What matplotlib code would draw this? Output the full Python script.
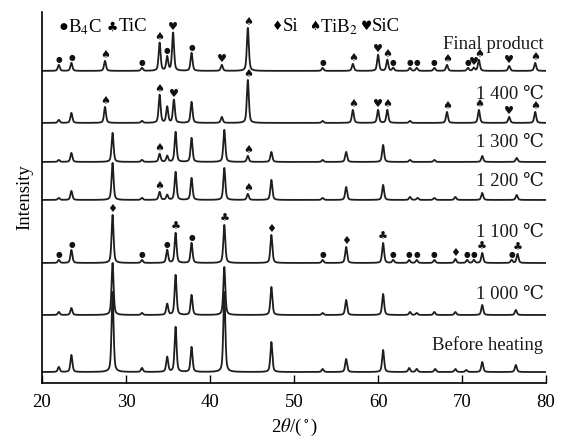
import numpy as np
import matplotlib.pyplot as plt

plt.rcParams['font.family'] = ['Liberation Serif', 'DejaVu Serif']
plt.rcParams['mathtext.fontset'] = 'stix'

# trace labels and vertical offsets (bottom to top)
labels = ['Before heating', '1 000 \u2103', '1 100 \u2103', '1 200 \u2103',
          '1 300 \u2103', '1 400 \u2103', 'Final product']
offsets = [11, 68, 120, 183, 221, 260, 312]
label_y = [38, 88, 150, 201, 240, 288, 338]

# peak lists: (2theta, height)
before_peaks = [(22.0, 5), (23.5, 17), (28.4, 80), (31.9, 4), (34.9, 15), (35.9, 45),
                (37.8, 25), (41.7, 80), (47.3, 30), (53.4, 3), (56.2, 13), (60.6, 22),
                (63.7, 4), (64.6, 3), (66.8, 3), (69.2, 3), (70.5, 2), (72.4, 10), (76.4, 7)]
p1000_peaks = [(22.0, 3), (23.5, 7), (28.4, 52), (31.9, 2), (34.9, 11), (35.9, 40),
               (37.8, 20), (41.7, 48), (47.3, 28), (53.4, 2), (56.2, 15), (60.6, 21),
               (63.8, 3), (64.6, 2), (66.7, 3), (69.2, 3), (72.4, 10), (76.4, 5)]
p1100_peaks = [(22.0, 3), (23.5, 13), (28.4, 48), (31.9, 3), (34.9, 13), (35.9, 30),
               (37.8, 20), (41.7, 38), (47.3, 28), (53.4, 3), (56.2, 16), (60.6, 20),
               (61.8, 3), (63.7, 3), (64.6, 3), (66.7, 3), (69.2, 4), (70.6, 3),
               (71.4, 3), (72.4, 10), (75.9, 3), (76.6, 9)]
p1200_peaks = [(22.0, 2), (23.5, 9), (28.4, 37), (31.9, 2), (34.0, 8), (34.9, 5),
               (35.9, 28), (37.8, 22), (41.7, 32), (44.5, 6), (47.3, 20), (53.4, 2),
               (56.2, 13), (60.6, 15), (63.8, 3), (64.7, 2), (66.7, 2), (69.2, 3),
               (72.4, 7), (76.5, 5)]
p1300_peaks = [(22.0, 2), (23.5, 9), (28.4, 29), (31.9, 2), (34.0, 8), (34.9, 6),
               (35.9, 30), (37.8, 24), (41.7, 32), (44.5, 6), (47.3, 10), (53.4, 2),
               (56.2, 10), (60.6, 17), (63.8, 2), (66.7, 2), (72.4, 6), (76.5, 4)]
p1400_peaks = [(22.0, 3), (23.5, 10), (27.5, 16), (31.9, 2), (34.0, 28), (34.9, 16),
               (35.7, 23), (37.8, 21), (41.4, 6), (44.5, 43), (53.4, 2), (57.0, 13),
               (60.0, 13), (61.1, 13), (63.8, 2), (68.2, 11), (72.0, 13), (75.6, 6),
               (78.7, 11)]
final_peaks = [(22.0, 6), (23.5, 8), (27.5, 10), (31.9, 3), (34.0, 28), (34.9, 14),
               (35.6, 38), (37.8, 18), (41.4, 6), (44.5, 43), (53.4, 3), (57.0, 7),
               (60.0, 16), (61.1, 11), (61.8, 3), (63.8, 3), (64.6, 3), (66.7, 3),
               (68.2, 6), (70.7, 3), (71.4, 3), (72.0, 11), (75.6, 5), (78.7, 8)]
all_peaks = [before_peaks, p1000_peaks, p1100_peaks, p1200_peaks,
             p1300_peaks, p1400_peaks, final_peaks]

# phase markers per trace index: (2theta, phase)
phase_marks = {
    2: [(22.0, 'B4C'), (23.5, 'B4C'), (28.4, 'Si'), (31.9, 'B4C'), (34.9, 'B4C'),
        (35.9, 'TiC'), (37.8, 'B4C'), (41.7, 'TiC'), (47.3, 'Si'), (53.4, 'B4C'),
        (56.2, 'Si'), (60.6, 'TiC'), (61.8, 'B4C'), (63.7, 'B4C'), (64.6, 'B4C'),
        (66.7, 'B4C'), (69.2, 'Si'), (70.6, 'B4C'), (71.4, 'B4C'), (72.4, 'TiC'),
        (75.9, 'B4C'), (76.6, 'TiC')],
    3: [(34.0, 'TiB2'), (44.5, 'TiB2')],
    4: [(34.0, 'TiB2'), (44.5, 'TiB2')],
    5: [(27.5, 'TiB2'), (34.0, 'TiB2'), (35.7, 'SiC'), (44.5, 'TiB2'), (57.0, 'TiB2'),
        (60.0, 'SiC'), (61.1, 'TiB2'), (68.2, 'TiB2'), (72.0, 'TiB2'), (75.6, 'SiC'),
        (78.7, 'TiB2')],
    6: [(22.0, 'B4C'), (23.5, 'B4C'), (27.5, 'TiB2'), (31.9, 'B4C'), (34.0, 'TiB2'),
        (34.9, 'B4C'), (35.6, 'SiC'), (37.8, 'B4C'), (41.4, 'SiC'), (44.5, 'TiB2'),
        (53.4, 'B4C'), (57.0, 'TiB2'), (60.0, 'SiC'), (61.1, 'TiB2'), (61.8, 'B4C'),
        (63.8, 'B4C'), (64.6, 'B4C'), (66.7, 'B4C'), (68.2, 'TiB2'), (70.7, 'B4C'),
        (71.4, 'SiC'), (72.0, 'TiB2'), (75.6, 'SiC'), (78.7, 'TiB2')],
}
symbols = {'B4C': '\u25cf', 'TiC': '\u2663', 'Si': '\u2666', 'TiB2': '\u2660', 'SiC': '\u2665'}

fig = plt.figure(figsize=(5.63, 4.40), dpi=100)
ax = fig.add_axes([0.0746, 0.1295, 0.8954, 0.8435])

x = np.linspace(20, 80, 4000)
fw = 0.28


def profile(peaks):
    y = np.zeros_like(x)
    for pos, h in peaks:
        d = (x - pos) / (fw / 2)
        y += h * (0.5 / (1 + d ** 2) + 0.5 * np.exp(-np.log(2) * d ** 2))
    return y


for i, peaks in enumerate(all_peaks):
    y = offsets[i] + profile(peaks)
    ax.plot(x, y, color='#1e1e1e', lw=1.3)
    for pos, ph in phase_marks.get(i, []):
        m = (x > pos - 0.15) & (x < pos + 0.15)
        top = y[m].max()
        ax.text(pos, top + 0.5, symbols[ph], ha='center', va='bottom',
                fontsize=5.5 if ph == 'B4C' else 8, family='DejaVu Sans', color='#111')
    ax.text(79.7, label_y[i], labels[i], fontsize=13.5,
            ha='right', va='center', color='#1a1a1a')

# legend text
ax.text(22.5, 356, '\u25cf', fontsize=6.5, family='DejaVu Sans', ha='center', va='center')
ax.text(23.1, 356, 'B$_4$C', fontsize=13.5, ha='left', va='center')
ax.text(28.4, 356, '\u2663', fontsize=9, family='DejaVu Sans', ha='center', va='center')
ax.text(29.1, 356, 'TiC', fontsize=13.5, ha='left', va='center')
ax.text(48.0, 356, '\u2666', fontsize=9, family='DejaVu Sans', ha='center', va='center')
ax.text(48.7, 356, 'Si', fontsize=13.5, ha='left', va='center')
ax.text(52.4, 356, '\u2660', fontsize=9, family='DejaVu Sans', ha='center', va='center')
ax.text(53.1, 356, 'TiB$_2$', fontsize=13.5, ha='left', va='center')
ax.text(58.6, 356, '\u2665', fontsize=9, family='DejaVu Sans', ha='center', va='center')
ax.text(59.3, 356, 'SiC', fontsize=13.5, ha='left', va='center')

ax.set_xlim(20, 80)
ax.set_ylim(0, 371)
ax.set_xticks([20, 30, 40, 50, 60, 70, 80])
ax.set_yticks([])
ax.tick_params(axis='x', direction='in', length=6, width=1, labelsize=13.5, pad=8)
for s in ['top', 'right']:
    ax.spines[s].set_visible(False)
for s in ['left', 'bottom']:
    ax.spines[s].set_linewidth(1.2)
ax.set_xlabel(r'2$\it{\theta}$/($^\circ$)', fontsize=13.5, labelpad=4)
ax.set_ylabel('Intensity', fontsize=13.5, labelpad=6)

fig.savefig('out.png', dpi=100)
